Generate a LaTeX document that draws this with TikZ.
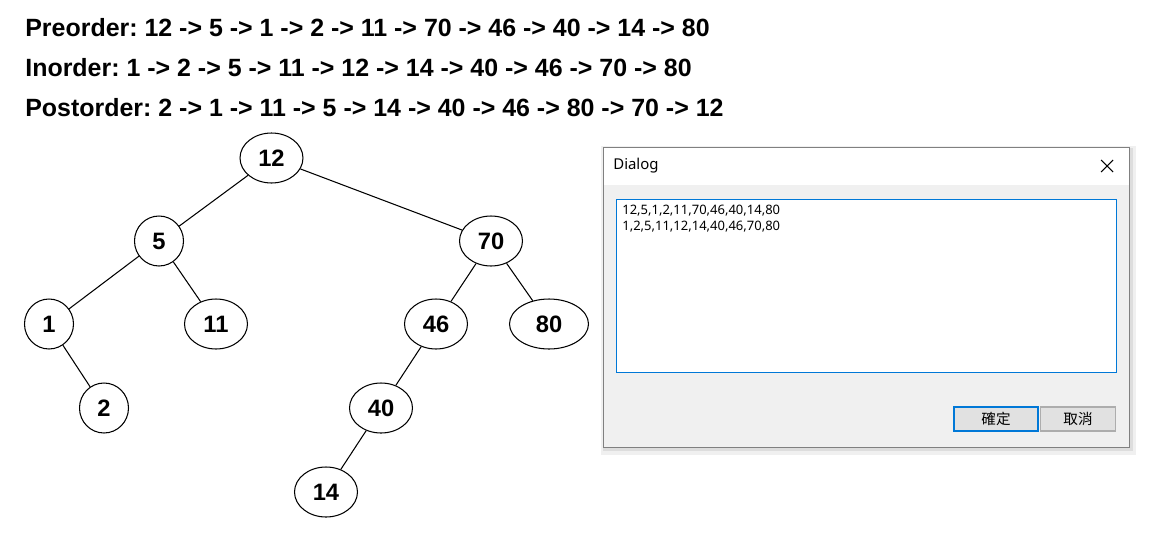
\documentclass[tikz,border=0pt]{standalone}
\usepackage{fontspec}
\setmainfont{Liberation Sans}
\newfontfamily\uifont{Noto Sans}
\newfontfamily\cjkfont{Noto Sans CJK TC}
\usetikzlibrary{positioning}
\usetikzlibrary{shapes.geometric}
\usepackage{xcolor}
\frenchspacing

\definecolor{dlgback}{RGB}{240,240,240}
\definecolor{dlgborder}{RGB}{128,128,128}
\definecolor{winblue}{RGB}{0,120,215}
\definecolor{btnface}{RGB}{225,225,225}
\definecolor{btnborder}{RGB}{173,173,173}

\tikzset{
 treenode/.style={draw, ellipse, line width=0.6pt, inner sep=0pt, minimum height=1cm, minimum width=0.98cm, font=\fontsize{13.5}{15}\selectfont\bfseries},
 widenode/.style={treenode, minimum width=1.26cm},
 branch/.style={line width=0.6pt},
 orderline/.style={anchor=west, inner sep=0pt, font=\fontsize{14.2}{16}\selectfont\bfseries},
 uitext/.style={anchor=west, inner sep=0pt, font=\uifont\fontsize{8.5}{10}\selectfont},
 listtext/.style={anchor=west, inner sep=0pt, font=\uifont\fontsize{7.4}{9}\selectfont},
 button/.style={fill=btnface, inner sep=0pt, minimum height=0.48cm, font=\cjkfont\fontsize{8.3}{10}\selectfont}
}

\begin{document}
\begin{tikzpicture}[x=0.02cm, y=-0.02cm]

\useasboundingbox (0,0) rectangle (1150,538);

% traversal results
\node[orderline] (pre) at (25,27.5) {Preorder: 12 -> 5 -> 1 -> 2 -> 11 -> 70 -> 46 -> 40 -> 14 -> 80};
\node[orderline] (in) at (25,67.5) {Inorder: 1 -> 2 -> 5 -> 11 -> 12 -> 14 -> 40 -> 46 -> 70 -> 80};
\node[orderline] (post) at (25,107.5) {Postorder: 2 -> 1 -> 11 -> 5 -> 14 -> 40 -> 46 -> 80 -> 70 -> 12};

% the tree
\node[widenode] (n12) at (271.5,158) {12};
\node[treenode] (n5) at (159,241) {5};
\node[widenode] (n70) at (491,241) {70};
\node[treenode] (n1) at (49,324) {1};
\node[widenode] (n11) at (216,324) {11};
\node[widenode] (n46) at (436,324) {46};
\node[widenode, minimum width=1.58cm] (n80) at (549,324) {80};
\node[treenode] (n2) at (104,408) {2};
\node[widenode] (n40) at (381,408) {40};
\node[widenode] (n14) at (326,492) {14};

\draw[branch] (n12) -- (n5);
\draw[branch] (n12) -- (n70);
\draw[branch] (n5) -- (n1);
\draw[branch] (n5) -- (n11);
\draw[branch] (n1) -- (n2);
\draw[branch] (n70) -- (n46);
\draw[branch] (n70) -- (n80);
\draw[branch] (n46) -- (n40);
\draw[branch] (n40) -- (n14);

% dialog window
\fill[black, opacity=0.06] (601,146) rectangle (1136,455);
\fill[black, opacity=0.08] (603,148) rectangle (1133,451);
\filldraw[fill=dlgback, draw=dlgborder, line width=0.6pt] (603.5,147.5) rectangle (1129.5,447.5);
\fill[white] (604,148) rectangle (1129,185);
\node[uitext] (title) at (613,166) {Dialog};
\draw[line width=0.6pt] (1101,160) -- (1113,172) (1101,172) -- (1113,160);

\filldraw[fill=white, draw=winblue, line width=0.6pt] (616.5,199.5) rectangle (1116.5,372.5);
\node[listtext] (line1) at (622,211) {12,5,1,2,11,70,46,40,14,80};
\node[listtext] (line2) at (622,227) {1,2,5,11,12,14,40,46,70,80};

\node[button, draw=winblue, line width=1.1pt, minimum width=1.68cm] (ok) at (996,419) {確定};
\node[button, draw=btnborder, line width=0.6pt, minimum width=1.5cm] (cancel) at (1078,419) {取消};

\end{tikzpicture}
\end{document}
